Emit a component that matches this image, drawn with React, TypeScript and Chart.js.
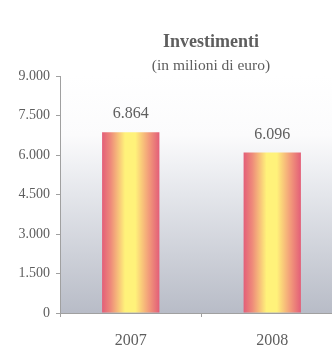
import React, { useEffect, useRef } from "react";
import { Chart, registerables } from "chart.js";

Chart.register(...registerables);

const TITLE = "Investimenti";
const SUBTITLE = "(in milioni di euro)";
const CATEGORIES = ["2007", "2008"];
const VALUES = [6864, 6096];
const VALUE_LABELS = ["6.864", "6.096"];
const Y_MIN = 0;
const Y_MAX = 9000;
const Y_STEP = 1500;

const FONT = "'Liberation Serif', 'Times New Roman', serif";
const TEXT = "#5e5e5e";
const AXIS = "#a0a0a0";
const BAR_PCT = 0.405;

const fmt = (v: number) => String(v).replace(/\B(?=(\d{3})+(?!\d))/g, ".");

const bgPlugin = {
  id: "bgPlugin",
  beforeDraw(chart: any) {
    const { ctx, chartArea } = chart;
    const g = ctx.createLinearGradient(0, chartArea.top, 0, chartArea.bottom);
    g.addColorStop(0, "#ffffff");
    g.addColorStop(0.25, "#fbfbfc");
    g.addColorStop(0.5, "#e4e6eb");
    g.addColorStop(1, "#b8bcc7");
    ctx.save();
    ctx.fillStyle = g;
    ctx.fillRect(chartArea.left, chartArea.top, chartArea.right - chartArea.left, chartArea.bottom - chartArea.top);
    ctx.restore();
  },
};

const textPlugin = {
  id: "textPlugin",
  afterDraw(chart: any) {
    const { ctx } = chart;
    ctx.save();
    ctx.fillStyle = TEXT;
    ctx.textAlign = "center";
    ctx.textBaseline = "middle";
    ctx.font = `bold 18px ${FONT}`;
    ctx.fillText(TITLE, 211, 42);
    ctx.font = `15.5px ${FONT}`;
    ctx.fillText(SUBTITLE, 211, 66);
    const meta = chart.getDatasetMeta(0);
    ctx.font = `16px ${FONT}`;
    meta.data.forEach((bar: any, i: number) => {
      ctx.fillText(VALUE_LABELS[i], bar.x, bar.y - 18);
    });
    ctx.restore();
  },
};

export default function App() {
  const ref = useRef<HTMLCanvasElement | null>(null);
  useEffect(() => {
    if (!ref.current) return;
    const chart = new Chart(ref.current, {
      type: "bar",
      data: {
        labels: CATEGORIES,
        datasets: [
          {
            data: VALUES,
            backgroundColor: (c: any) => {
              const chartArea = c.chart.chartArea;
              const xs = c.chart.scales && c.chart.scales.x;
              if (!chartArea || !xs || c.dataIndex === undefined) return "#f5c070";
              const cx = xs.getPixelForValue(c.dataIndex);
              const cat = (chartArea.right - chartArea.left) / CATEGORIES.length;
              const half = (cat * BAR_PCT) / 2;
              if (!Number.isFinite(cx) || !Number.isFinite(half)) return "#f5c070";
              const g = c.chart.ctx.createLinearGradient(cx - half, 0, cx + half, 0);
              g.addColorStop(0, "#e35e78");
              g.addColorStop(0.15, "#ee8a7a");
              g.addColorStop(0.4, "#fff27a");
              g.addColorStop(0.58, "#fff27a");
              g.addColorStop(0.82, "#f29a7a");
              g.addColorStop(1, "#e35e78");
              return g;
            },
            borderWidth: 0,
            categoryPercentage: 1,
            barPercentage: BAR_PCT,
          },
        ],
      },
      options: {
        animation: false,
        responsive: false,
        events: [],
        layout: { padding: { top: 76, left: 0, right: 0, bottom: 0 } },
        plugins: { legend: { display: false }, tooltip: { enabled: false }, title: { display: false } },
        scales: {
          x: {
            offset: true,
            grid: { display: true, drawOnChartArea: false, drawTicks: true, tickLength: 4, color: AXIS, offset: true },
            border: { display: true, color: AXIS },
            ticks: { color: TEXT, font: { family: FONT, size: 16 }, padding: 14 },
            afterFit: (s: any) => { s.height = 36; },
          },
          y: {
            min: Y_MIN,
            max: Y_MAX,
            grid: { display: true, drawOnChartArea: false, drawTicks: true, tickLength: 4, color: AXIS },
            border: { display: true, color: AXIS },
            ticks: { stepSize: Y_STEP, color: TEXT, font: { family: FONT, size: 14 }, padding: 6, callback: (v: any) => fmt(Number(v)) },
            afterFit: (s: any) => { s.width = 60; },
          },
        },
      },
      plugins: [bgPlugin, textPlugin],
    });
    return () => chart.destroy();
  }, []);
  return (
    <div style={{ position: "fixed", left: 0, top: 0, width: 332, height: 349, overflow: "hidden", background: "#fff" }}>
      <canvas ref={ref} width={343} height={349} style={{ display: "block" }} />
    </div>
  );
}
